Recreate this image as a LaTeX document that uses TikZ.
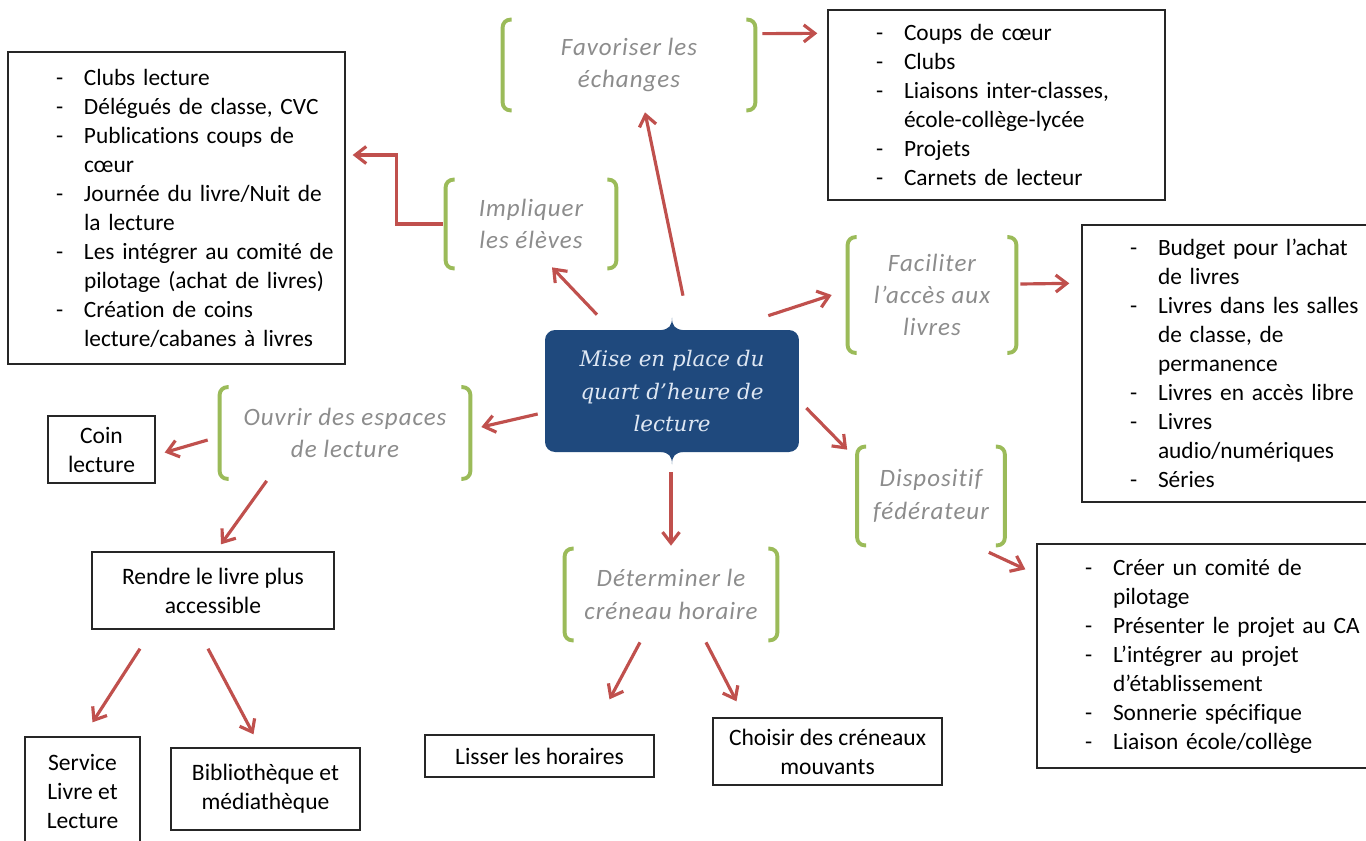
\documentclass[tikz,border=0pt]{standalone}
\usepackage{fontspec}
\setmainfont{Carlito}[Ligatures=NoCommon]
\newfontfamily\lblfont[LetterSpace=4,Ligatures=NoCommon]{Carlito}
\newfontfamily\ctrfont{DejaVu Serif}
\usetikzlibrary{arrows.meta}
\definecolor{ared}{RGB}{192,80,77}
\definecolor{bgreen}{RGB}{155,187,89}
\definecolor{ctrblue}{RGB}{31,73,125}
\definecolor{ctrtext}{RGB}{222,231,243}
\definecolor{lblgray}{RGB}{140,140,140}
\newcommand\lstitem[1]{\mbox{\hspace*{0.96cm}\makebox[0.56cm][l]{-}#1}}
\newcommand\lstcont[1]{\mbox{\hspace*{1.52cm}#1}}
\begin{document}
\begin{tikzpicture}[x=0.02cm, y=-0.02cm,
		listbox/.style={draw=black!85, line width=0.8pt, align=left, inner xsep=0pt, inner ysep=0pt, font=\fontsize{13.3}{16.5}\selectfont},
		plainbox/.style={draw=black!85, line width=0.8pt, align=center, inner sep=0pt, font=\fontsize{13.4}{16.5}\selectfont},
		theme/.style={align=center, inner sep=0pt, text=lblgray, font=\lblfont\itshape\fontsize{14.2}{18.4}\selectfont},
		bracket/.style={draw=bgreen, line width=2.2pt, rounded corners=0.15cm},
		arr/.style={draw=ared, line width=1.8pt, -{Straight Barb[length=0.22cm,width=0.34cm]}}]
		\useasboundingbox[fill=white] (0,0) rectangle (1366,840);

		\node[fill=ctrblue, rounded corners=0.2cm, minimum width=5.08cm, minimum height=2.44cm, inner sep=0pt, align=center, text=ctrtext, font=\ctrfont\itshape\fontsize{12.2}{18.7}\selectfont] (ctr) at (672,391) {Mise en place du\\quart d’heure de\\lecture};
		\foreach \a/\s in {north/-1,south/1}{
			\fill[ctrblue] ([shift={(-12,-\s*0.5)}]ctr.\a) .. controls ([shift={(-3,0)}]ctr.\a) and ([shift={(0,\s*4)}]ctr.\a) .. ([shift={(0,\s*12)}]ctr.\a) .. controls ([shift={(0,\s*4)}]ctr.\a) and ([shift={(3,0)}]ctr.\a) .. ([shift={(12,-\s*0.5)}]ctr.\a) -- cycle;
		}

		\node[theme, minimum width=5.04cm, minimum height=1.8cm] (fav) at (629,65) {Favoriser les\\échanges};
		\node[theme, minimum width=3.4cm, minimum height=1.76cm] (impl) at (531,224) {Impliquer\\les élèves};
		\node[theme, minimum width=3.36cm, minimum height=2.3cm] (faci) at (932,295) {Faciliter\\l’accès aux\\livres};
		\node[theme, minimum width=5.0cm, minimum height=1.82cm] (ouvr) at (345,433) {Ouvrir des espaces\\de lecture};
		\node[theme, minimum width=2.94cm, minimum height=1.96cm] (disp) at (931,496) {Dispositif\\fédérateur};
		\node[theme, minimum width=4.24cm, minimum height=1.82cm] (det) at (671,594.5) {Déterminer le\\créneau horaire};
		\foreach \n in {fav,impl,faci,ouvr,disp,det}{
			\draw[bracket] ([xshift=0.18cm]\n.north west) -- (\n.north west) -- (\n.south west) -- ([xshift=0.18cm]\n.south west);
			\draw[bracket] ([xshift=-0.18cm]\n.north east) -- (\n.north east) -- (\n.south east) -- ([xshift=-0.18cm]\n.south east);
		}

		\node[listbox, text width=6.74cm, minimum height=6.24cm] (lstimpl) at (176.5,208) {\lstitem{Clubs lecture}\\\lstitem{Délégués de classe, CVC}\\\lstitem{Publications coups de}\\\lstcont{cœur}\\\lstitem{Journée du livre/Nuit de}\\\lstcont{la lecture}\\\lstitem{Les intégrer au comité de}\\\lstcont{pilotage (achat de livres)}\\\lstitem{Création de coins}\\\lstcont{lecture/cabanes à livres}};
		\node[listbox, text width=6.74cm, minimum height=3.8cm] (lstfav) at (996.5,105) {\lstitem{Coups de cœur}\\\lstitem{Clubs}\\\lstitem{Liaisons inter-classes,}\\\lstcont{école-collège-lycée}\\\lstitem{Projets}\\\lstitem{Carnets de lecteur}};
		\node[listbox, text width=5.86cm, minimum height=5.54cm] (lstfaci) at (1228.5,363.5) {\lstitem{Budget pour l’achat}\\\lstcont{de livres}\\\lstitem{Livres dans les salles}\\\lstcont{de classe, de}\\\lstcont{permanence}\\\lstitem{Livres en accès libre}\\\lstitem{Livres}\\\lstcont{audio/numériques}\\\lstitem{Séries}};
		\node[listbox, text width=6.76cm, minimum height=4.48cm] (lstdisp) at (1206,656) {\lstitem{Créer un comité de}\\\lstcont{pilotage}\\\lstitem{Présenter le projet au CA}\\\lstitem{L’intégrer au projet}\\\lstcont{d’établissement}\\\lstitem{Sonnerie spécifique}\\\lstitem{Liaison école/collège}};

		\node[plainbox, minimum width=2.14cm, minimum height=1.34cm] (coin) at (101.5,449.5) {Coin\\lecture};
		\node[plainbox, minimum width=4.84cm, minimum height=1.54cm] (rendre) at (213,590.5) {Rendre le livre plus\\accessible};
		\node[plainbox, minimum width=2.3cm, minimum height=2.16cm] (service) at (82.5,791) {Service\\Livre et\\Lecture};
		\node[plainbox, minimum width=3.78cm, minimum height=1.64cm] (biblio) at (265.5,789) {Bibliothèque et\\médiathèque};
		\node[plainbox, minimum width=4.58cm, minimum height=0.84cm] (lisser) at (539.5,756) {Lisser les horaires};
		\node[plainbox, minimum width=4.58cm, minimum height=1.34cm] (choisir) at (827.5,751.5) {Choisir des créneaux\\mouvants};

		\draw[arr] ([shift={(11,-34)}]ctr.north) -- ([shift={(16,2)}]fav.south);
		\draw[arr] ([shift={(-75,-15)}]ctr.north) -- ([shift={(21,-1)}]impl.south);
		\draw[arr] ([xshift=-0.06cm]impl.west) -- ++(-46,0) |- ([shift={(7,-53)}]lstimpl.east);
		\draw[arr] ([shift={(7,14)}]fav.north east) -- ([shift={(-10,24)}]lstfav.north west);
		\draw[arr] ([shift={(-31,-14)}]ctr.north east) -- ([shift={(-16,0)}]faci.west);
		\draw[arr] ([shift={(4,-11)}]faci.east) -- ([shift={(-12,59)}]lstfaci.north west);
		\draw[arr] ([shift={(7,17)}]ctr.east) -- ([shift={(-10,3)}]disp.north west);
		\draw[arr] ([shift={(-16,7)}]disp.south east) -- ([shift={(-11,26)}]lstdisp.north west);
		\draw[arr] ([shift={(-7,23)}]ctr.west) -- ([shift={(11,-6)}]ouvr.east);
		\draw[arr] ([shift={(-12,7)}]ouvr.west) -- ([shift={(9,3)}]coin.east);
		\draw[arr] ([shift={(47,2)}]ouvr.south west) -- ([shift={(8,-7)}]rendre.north);
		\draw[arr] ([shift={(-1,20)}]ctr.south) -- ([shift={(0,-3)}]det.north);
		\draw[arr] ([shift={(-73,19)}]rendre.south) -- ([shift={(10,-14)}]service.north);
		\draw[arr] ([shift={(-5,19)}]rendre.south) -- ([shift={(-12,-13)}]biblio.north);
		\draw[arr] ([shift={(-31,2)}]det.south) -- ([shift={(70,-35)}]lisser.north);
		\draw[arr] ([shift={(35,2)}]det.south) -- ([shift={(-91,-16)}]choisir.north);
\end{tikzpicture}
\end{document}
